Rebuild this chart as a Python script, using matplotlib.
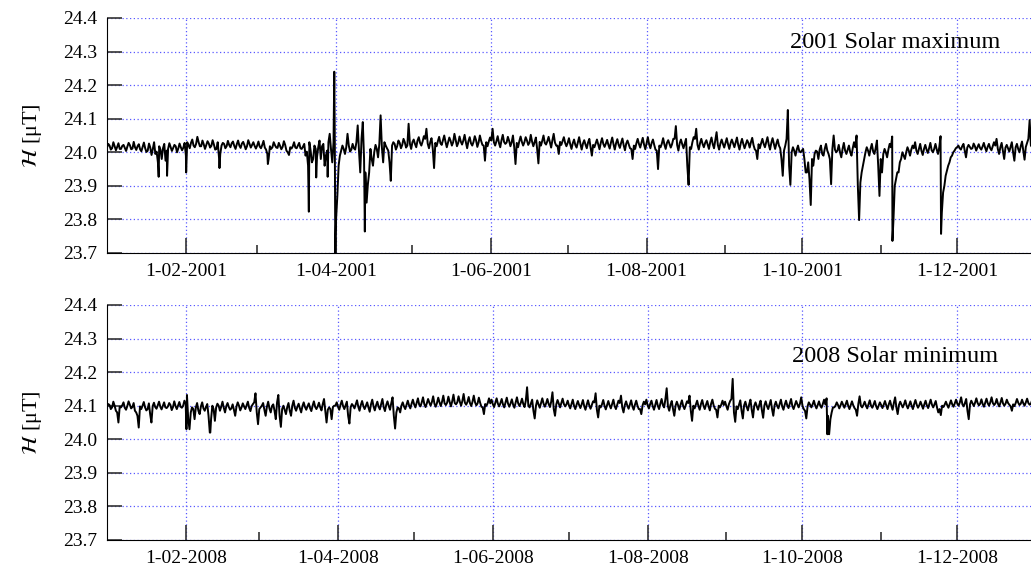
import datetime as dt
import numpy as np
import matplotlib
matplotlib.use("Agg")
import matplotlib.pyplot as plt
import matplotlib.dates as mdates
from matplotlib.ticker import FuncFormatter, MultipleLocator

plt.rcParams['font.family'] = ['Liberation Serif', 'DejaVu Serif']
plt.rcParams['mathtext.fontset'] = 'stix'

# H in nT above 24 000 nT (= 24 uT). "day" readings sit at noon, "night" ones at midnight,
# one value per day from 1 Jan, one row per month
h2001_day = [
    25, 8, 30, 6, 27, 10, 22, 4, 28, 9, 31, 7, 24, 3, 29, 1, 26, -8, 30, 2, 18, -20, 25, 5, 27, 4, 22, 0, 26, 6, 28,
    30, 12, 38, 15, 46, 18, 35, 10, 33, 14, 36, 8, 30, -5, 28, 12, 34, 15, 32, 10, 35, 13, 31, 9, 36, 14, 30, 11,
    32, 12, 34, 8, -20, 10, 30, 14, 28, 9, 33, 5, -8, 11, 30, 12, 28, 10, 25, 2, 30, -30, 20, -15, 35, 18, -40, 5, 55, -30, 40,
    -130, -10, 20, -5, 55, 2, 25, 8, 80, -60, 90, -60, -95, 10, -40, 22, -15, 110, -30, 20, 5, -85, 30, 8, 35, 12, 40, 14, 85, 10,
    38, 15, 45, 20, 48, 70, 12, 42, -47, 18, 46, 22, 50, 15, 44, 20, 55, 18, 47, 23, 52, 12, 45, 20, 48, 16, 50, 22, -25, 18, 44,
    70, 20, 48, 15, 52, 25, 46, 18, 50, -35, 15, 47, 20, 45, 22, 52, 18, 44, -33, 20, 50, 23, 46, 14, 55, 20, -5, 22, 45, 18,
    42, 10, 38, 14, 45, 8, 36, 12, 40, -10, 15, 38, 9, 42, 16, 37, 11, 44, 8, 39, 13, 41, 6, 35, 12, -20, 10, 40, 14, 43, 9,
    45, 12, 38, 8, -50, 15, 42, 10, 36, 14, 40, 78, 5, 38, 12, 40, -97, 10, 45, 70, 8, 40, 15, 36, 10, 44, 12, 60, 8, 38, 14,
    42, 10, 38, 15, 44, 8, 40, 12, 36, 14, 43, 9, -20, 12, 40, 15, 45, 8, 42, 10, 38, 12, -70, 20, 126, -97, 15, -10, 20, 0,
    10, -60, -30, -157, -40, 5, -20, 20, -10, 25, -5, -95, 50, 0, 22, -15, 28, -5, 20, -10, 30, 50, -202, -60, -20, 15, -10, 25, -5, 35, -130,
    -60, 10, -15, 25, 47, -100, -60, -30, 0, -20, 15, -10, 20, 30, -5, 25, -8, 22, -2, 28, 0, 25, -5, 48, -120, -70, -40, -15, 0, 12,
    20, 8, 25, -15, 22, 10, 26, 5, 24, 8, 28, 3, 25, 6, 30, 40, -5, 28, -20, 22, 2, 30, -25, 25, 0, 32, -22, 28, 96, 15, 30,
]
h2001_night = [
    14, 20, 12, 18, 16, 10, 19, 13, 17, 21, 11, 15, 18, 9, 16, 12, 5, 14, 10, -5, -30, 8, 12, -25, 10, 16, 13, 18, 11, 15, 14,
    -10, 22, 28, 20, 25, 30, 18, 24, 21, 26, 19, 23, 10, -15, 20, 25, 18, 22, 27, 19, 24, 20, 26, 21, 18, 25, 22, 19,
    20, 17, 22, 14, -5, 18, 15, 21, 13, 19, 16, 22, 0, 15, 18, 14, 20, 12, 17, -10, -40, 5, -20, 10, 15, -20, 25, -10, 30, 10, 30,
    -200, -40, 5, 10, 15, 20, 8, 12, 30, 5, 40, -20, -150, -60, -20, 0, 10, 25, 15, 30, 12, -30, 20, 25, 18, 28, 22, 30, 20, 26,
    30, 25, 35, 28, 32, 40, 26, 30, 10, 28, 33, 27, 36, 31, 29, 34, 30, 37, 28, 32, 35, 30, 33, 27, 31, 36, 29, 34, 20, 30, 32,
    35, 30, 33, 28, 36, 31, 29, 34, 30, 15, 28, 33, 31, 30, 35, 29, 32, 30, 10, 31, 34, 28, 33, 30, 36, 29, 20, 31, 33, 28,
    28, 24, 27, 22, 30, 25, 26, 23, 29, 15, 22, 27, 24, 28, 25, 26, 22, 29, 24, 27, 23, 28, 21, 26, 24, 10, 20, 27, 25, 29, 23,
    27, 24, 28, 22, 5, 20, 26, 23, 28, 25, 24, 40, 22, 27, 24, 26, -40, 15, 30, 40, 22, 27, 25, 28, 23, 30, 24, 35, 22, 26, 25,
    28, 24, 27, 26, 30, 22, 27, 25, 24, 28, 30, 22, 5, 24, 27, 25, 30, 23, 28, 25, 26, 20, -20, 5, 40, -40, 0, 5, 8, 3,
    5, -20, -60, -80, -20, -5, 2, 8, -5, 10, 5, -20, 10, 8, 5, 0, 10, 5, 8, 0, 12, 15, -100, -90, -40, 0, 5, 10, 3, 12, -40,
    -20, -5, 0, 8, 15, -200, -80, -60, -20, -10, 0, 5, 8, 12, 5, 10, 4, 10, 8, 12, 6, 10, 8, 15, -180, -100, -55, -30, -10, 5,
    15, 12, 18, 5, 14, 16, 12, 18, 15, 13, 17, 14, 16, 12, 18, 20, 10, 15, 5, 14, 12, 16, 0, 15, 10, 18, 5, 16, 40, 20, 18,
]
h2008_day = [
    105, 90, 112, 85, 50, 95, 110, 88, 113, 92, 108, 80, 35, 90, 111, 86, 107, 50, 109, 91, 112, 89, 110, 93, 108, 87, 113, 90, 111, 94, 115,
    132, 30, 95, 60, 108, 75, 110, 85, 105, 20, 100, 55, 106, 85, 112, 80, 108, 88, 104, 70, 110, 86, 107, 90, 112, 84, 105, 137,
    45, 95, 108, 70, 112, 80, 104, 60, 132, 37, 100, 75, 108, 70, 115, 85, 106, 80, 110, 88, 107, 84, 113, 90, 109, 86, 120, 50, 95, 60, 100,
    110, 88, 115, 90, 112, 47, 105, 92, 116, 85, 114, 90, 110, 82, 118, 86, 112, 89, 120, 84, 113, 88, 125, 32, 95, 80, 110, 90, 115, 92,
    118, 95, 122, 98, 125, 96, 120, 100, 128, 97, 124, 99, 130, 102, 127, 98, 133, 104, 128, 100, 135, 103, 126, 99, 130, 101, 124, 97, 75, 100, 122,
    118, 96, 122, 98, 120, 95, 124, 97, 119, 94, 125, 99, 121, 96, 155, 95, 118, 62, 116, 94, 122, 97, 120, 96, 140, 70, 117, 95, 121, 98,
    115, 92, 118, 90, 114, 93, 117, 88, 116, 91, 113, 137, 65, 95, 117, 89, 114, 92, 118, 90, 115, 130, 80, 113, 91, 116, 88, 115, 90, 75, 112,
    118, 92, 115, 88, 117, 90, 120, 95, 152, 85, 114, 70, 112, 88, 116, 90, 113, 130, 55, 92, 115, 88, 117, 90, 114, 86, 118, 91, 65, 95, 115,
    112, 88, 114, 180, 52, 90, 116, 62, 112, 86, 118, 65, 110, 88, 115, 64, 113, 90, 117, 70, 112, 92, 118, 88, 115, 93, 120, 90, 114, 95,
    125, 90, 62, 110, 95, 115, 92, 113, 94, 118, 122, 15, 80, 95, 110, 92, 112, 94, 115, 90, 113, 93, 70, 128, 95, 112, 92, 116, 94, 114, 90,
    110, 93, 114, 90, 115, 88, 125, 75, 112, 95, 116, 92, 113, 90, 117, 94, 112, 91, 115, 93, 118, 95, 114, 80, 72, 96, 112, 94, 116, 97,
    118, 100, 125, 98, 120, 60, 115, 99, 122, 101, 119, 97, 121, 100, 125, 102, 120, 98, 123, 100, 118, 103, 85, 99, 120, 102, 118, 100, 121, 103, 117,
]
h2008_night = [
    98, 102, 95, 100, 80, 97, 101, 94, 99, 103, 96, 85, 70, 98, 100, 95, 90, 75, 99, 96, 101, 97, 100, 95, 98, 102, 96, 99, 101, 97, 100,
    105, 60, 80, 90, 95, 85, 98, 92, 96, 70, 60, 90, 95, 100, 97, 94, 99, 96, 92, 88, 97, 100, 95, 98, 101, 94, 99, 110,
    80, 90, 100, 88, 97, 92, 99, 85, 110, 70, 90, 88, 96, 85, 100, 94, 97, 92, 99, 96, 98, 93, 100, 97, 98, 95, 105, 85, 88, 90, 96,
    100, 97, 103, 99, 101, 70, 96, 100, 104, 97, 102, 99, 100, 95, 104, 98, 101, 97, 105, 96, 102, 99, 108, 70, 80, 92, 100, 98, 103, 101,
    106, 104, 108, 103, 110, 105, 107, 109, 111, 106, 108, 110, 112, 107, 109, 111, 113, 108, 110, 112, 114, 109, 111, 108, 112, 110, 107, 109, 95, 105, 108,
    107, 105, 109, 106, 108, 104, 110, 106, 107, 103, 109, 107, 108, 105, 115, 100, 106, 85, 100, 104, 108, 106, 107, 105, 112, 90, 104, 106, 108, 105,
    104, 101, 105, 100, 103, 102, 104, 99, 103, 101, 102, 110, 88, 100, 104, 100, 102, 101, 105, 99, 103, 108, 95, 102, 100, 104, 98, 103, 100, 90, 101,
    104, 101, 105, 99, 103, 100, 106, 102, 120, 98, 103, 90, 100, 101, 104, 99, 102, 108, 85, 100, 104, 99, 105, 100, 103, 98, 106, 101, 88, 100, 103,
    102, 99, 104, 120, 80, 98, 103, 85, 101, 97, 104, 88, 100, 98, 103, 87, 101, 99, 104, 90, 101, 100, 105, 98, 103, 101, 106, 99, 102, 104,
    106, 100, 85, 98, 103, 104, 101, 102, 100, 105, 104, 70, 60, 95, 100, 102, 101, 103, 104, 100, 102, 101, 88, 105, 100, 102, 101, 104, 100, 103, 99,
    100, 102, 103, 101, 104, 100, 108, 95, 102, 103, 104, 101, 102, 100, 105, 103, 101, 102, 104, 101, 106, 103, 104, 95, 90, 100, 103, 102, 105, 104,
    107, 106, 110, 104, 108, 85, 104, 107, 109, 108, 106, 105, 109, 107, 110, 108, 107, 106, 109, 107, 106, 108, 98, 104, 108, 109, 106, 107, 110, 108, 106,
]

# sharp storm excursions between the regular readings: day of year, nT above 24 000
storm_day_2001 = [20.3, 23.6, 31.1, 44.2, 63.2, 79.3, 82.2, 86.7, 89.3, 89.7, 101.3, 308.6, 327.7]
storm_val_2001 = [-73, -70, -60, -47, -35, -177, -75, -73, 240, -300, -236, -264, -243]
storm_day_2008 = [31.3, 40.7, 283.8]
storm_val_2008 = [30, 20, 15]

years = [2001, 2008]
day_vals = [h2001_day, h2008_day]
night_vals = [h2001_night, h2008_night]
storm_days = [storm_day_2001, storm_day_2008]
storm_vals = [storm_val_2001, storm_val_2008]
panel_text = ["2001 Solar maximum", "2008 Solar minimum"]
text_y = [24.326, 24.248]

grid_col = (0.35, 0.35, 1.0)

fig = plt.figure(figsize=(10.31, 5.68), dpi=100)
boxes = [[107 / 1031, 1 - 253 / 568, 929 / 1031, 235 / 568],
         [107 / 1031, 1 - 540 / 568, 929 / 1031, 235 / 568]]

def date_label(x, pos):
    d = mdates.num2date(x)
    return f"{d.day}-{d.month:02d}-{d.year}"

for i in range(2):
    ax = fig.add_axes(boxes[i])
    t0 = mdates.date2num(dt.datetime(years[i], 1, 1))
    days = np.concatenate([np.arange(len(night_vals[i])) + 0.0,
                           np.arange(len(day_vals[i])) + 0.5,
                           storm_days[i]])
    vals = np.concatenate([night_vals[i], day_vals[i], storm_vals[i]]).astype(float)
    order = np.argsort(days, kind='stable')
    ax.plot(t0 + days[order], 24.0 + vals[order] / 1000.0, color='black', lw=1.4)

    ax.set_xlim(t0, mdates.date2num(dt.datetime(years[i] + 1, 1, 1)))
    ax.set_ylim(23.7, 24.4)
    ax.yaxis.set_major_locator(MultipleLocator(0.1))
    ax.yaxis.set_major_formatter(FuncFormatter(lambda v, p: f"{v:.1f}"))
    ax.xaxis.set_major_locator(mdates.MonthLocator(bymonth=[2, 4, 6, 8, 10, 12]))
    ax.xaxis.set_minor_locator(mdates.MonthLocator(bymonth=[3, 5, 7, 9, 11]))
    ax.xaxis.set_major_formatter(FuncFormatter(date_label))

    ax.spines['top'].set_visible(False)
    ax.spines['right'].set_visible(False)
    ax.tick_params(axis='both', which='major', direction='in', length=11, width=1.2,
                   labelsize=14, color='#333333')
    ax.tick_params(axis='x', which='minor', direction='in', length=6, width=1.2, color='#333333')
    ax.tick_params(axis='y', right=False, pad=7)
    ax.tick_params(axis='x', top=False, pad=7)
    ax.grid(True, which='major', color=grid_col, linestyle=(0, (1, 2)), lw=0.9)
    ax.set_axisbelow(True)

    ax.set_ylabel(r"$\mathcal{H}$ [μT]", fontsize=16, labelpad=14)
    ax.text(t0 + 351, text_y[i], panel_text[i], ha='right', va='center', fontsize=17.5)

fig.savefig("out.png", dpi=100)
